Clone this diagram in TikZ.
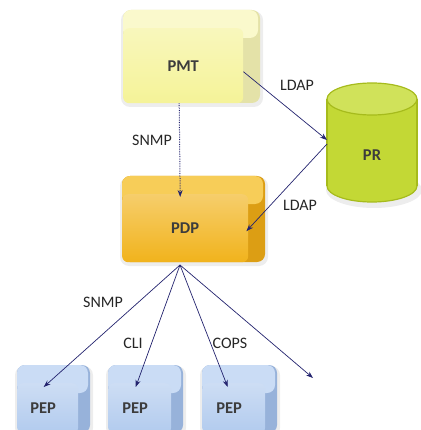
\documentclass[tikz,border=0pt]{standalone}
\usepackage{fontspec}
\setmainfont{Carlito}
\usetikzlibrary{arrows.meta}
\definecolor{arrowblue}{HTML}{23236E}
\definecolor{pmtF}{HTML}{F5F398}
\definecolor{pmtT}{HTML}{FAF9CC}
\definecolor{pmtS}{HTML}{E4E2A8}
\definecolor{pdpF}{HTML}{F1B31C}
\definecolor{pdpT}{HTML}{F7CD58}
\definecolor{pdpS}{HTML}{DC9E14}
\definecolor{pepF}{HTML}{B2CBEE}
\definecolor{pepT}{HTML}{CADCF5}
\definecolor{pepS}{HTML}{97B2DA}
\definecolor{prB}{HTML}{C3D835}
\definecolor{prT}{HTML}{D0E25A}
\definecolor{prD}{HTML}{A6BB1C}
\definecolor{boxtext}{HTML}{3C3C3C}
\tikzset{
  conn/.style={draw=arrowblue, line width=0.7pt, -{Stealth[length=7pt,width=5pt]}},
  lbl/.style={font=\fontsize{16}{18}\selectfont, text=black!85, inner sep=1pt},
  boxface/.style={rounded corners=6pt, font=\bfseries\fontsize{16.5}{18}\selectfont, text=boxtext, inner sep=0pt}
}
\newcommand{\cubebox}[9]{%
  \fill[black, opacity=0.07, rounded corners=9pt] (#2-2,#3+1) rectangle (#4+3,#5+4);
  \fill[#6S, rounded corners=8pt] (#2,#3) rectangle (#4,#5);
  \fill[#6T, rounded corners=8pt] (#2,#3) rectangle (#4-2,#3+#8+10);
  \node[boxface, top color=#6F!65!white, bottom color=#6F,
        minimum width={(#4-#2-#9)*1pt}, minimum height={(#5-#3-#8)*1pt},
        anchor=north west] (#1) at (#2,#3+#8) {\raisebox{-5pt}{#7}};
}
\begin{document}
\begin{tikzpicture}[x=1pt,y=-1pt]
\useasboundingbox (0,0) rectangle (420,430);
% boxes
\cubebox{pmt}{123}{10}{260}{103}{pmt}{PMT}{18}{17}
\cubebox{pdp}{122}{176}{265}{262}{pdp}{PDP}{18}{17}
\cubebox{pep1}{17}{365}{90}{433}{pep}{\hspace*{-9pt}PEP}{18}{12}
\cubebox{pep2}{108}{365}{183}{433}{pep}{\hspace*{-9pt}PEP}{18}{12}
\cubebox{pep3}{202}{365}{277}{433}{pep}{\hspace*{-9pt}PEP}{18}{12}
% cylinder PR
\fill[black, opacity=0.07] (374,190) ellipse [x radius=48, y radius=18];
\filldraw[fill=prB, draw=prD, line width=1.2pt] (372,186) ellipse [x radius=45, y radius=16];
\fill[prB] (327,99) rectangle (417,186);
\draw[prD, line width=1.2pt] (327,99) -- (327,186) (417,99) -- (417,186);
\filldraw[fill=prT, draw=prD, line width=1.2pt] (372,99) ellipse [x radius=45, y radius=16];
\node[boxface] (pr) at (372,155) {PR};
\coordinate (prL) at (327,142);
\coordinate (apex) at (180,265);
\coordinate (free) at (313,378);
% connectors
\draw[conn] ([yshift=-6pt]pmt.east) -- ([yshift=2pt]prL);
\draw[conn] ([yshift=-2pt]prL) -- ([xshift=-2pt,yshift=-3pt]pdp.east);
\draw[conn, densely dotted, line width=1pt] ([xshift=-4pt]pmt.south) -- ([xshift=-5pt,yshift=-3pt]pdp.north);
\draw[conn] (apex) -- ([xshift=-4pt,yshift=-4pt]pep1.north);
\draw[conn] (apex) -- ([xshift=-4pt,yshift=-4pt]pep2.north);
\draw[conn] (apex) -- ([xshift=-6pt,yshift=-4pt]pep3.north);
\draw[conn] (apex) -- (free);
% labels
\node[lbl] (l1) at (297,85) {LDAP};
\node[lbl] (l2) at (300,205) {LDAP};
\node[lbl] (l3) at (152,140) {SNMP};
\node[lbl] (l4) at (103,302) {SNMP};
\node[lbl] (l5) at (133,343) {CLI};
\node[lbl] (l6) at (230,343) {COPS};
\end{tikzpicture}
\end{document}
